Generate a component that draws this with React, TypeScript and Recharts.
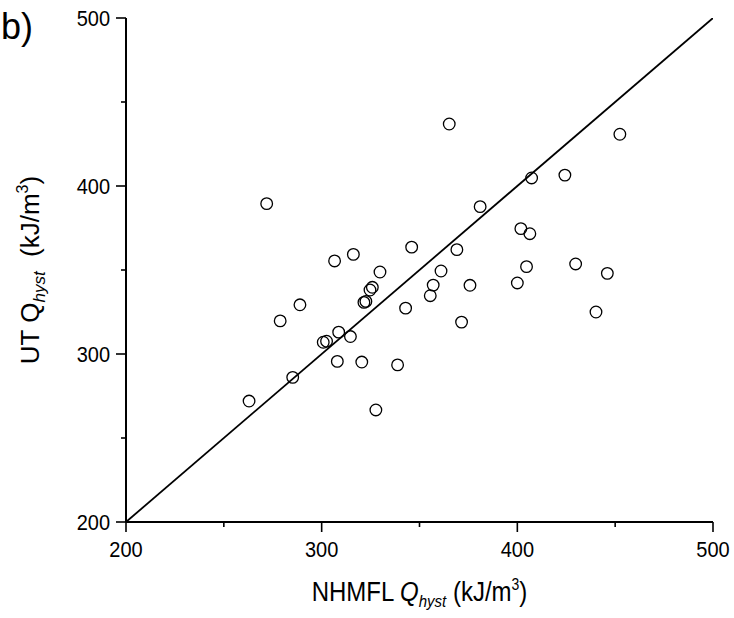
import React from 'react';
import { ScatterChart, Scatter, XAxis, YAxis } from 'recharts';

// NHMFL Q_hyst (x) vs UT Q_hyst (y), kJ/m^3
const nhmflQ = [
  262.9, 271.9, 278.8, 285.2, 288.9, 300.8, 302.5, 306.6, 308.0, 308.7,
  314.7, 316.2, 320.5, 321.6, 322.6, 324.7, 325.9, 327.7, 329.8, 338.8,
  342.9, 346.0, 355.5, 357.0, 361.0, 365.2, 369.1, 371.5, 375.8, 381.0,
  400.0, 401.8, 404.7, 406.4, 407.3, 424.3, 429.8, 440.2, 446.0, 452.4,
];
const utQ = [
  272.0, 389.5, 319.7, 286.1, 329.3, 307.0, 307.6, 355.4, 295.6, 313.0,
  310.4, 359.3, 295.2, 330.7, 331.3, 338.1, 339.7, 266.7, 348.8, 293.5,
  327.3, 363.6, 334.7, 341.0, 349.4, 436.9, 362.1, 319.0, 340.9, 387.7,
  342.3, 374.6, 352.0, 371.6, 404.8, 406.5, 353.6, 325.0, 348.0, 430.8,
];
const axisDomain: [number, number] = [200, 500];
const axisTicks = [200, 250, 300, 350, 400, 450, 500];
const labelledTicks = [200, 300, 400, 500];
const identityLine = [
  { x: 200, y: 200 },
  { x: 500, y: 500 },
];

const points = nhmflQ.map((x, i) => ({ x, y: utQ[i] }));

const FONT = '"Liberation Sans", Arial, Helvetica, sans-serif';
const MAJOR = 10;
const MINOR = 5;
const SW = 2;

const isMajor = (v: number) => labelledTicks.includes(v);

const BottomTick = (props: any) => {
  const { x, y, payload } = props;
  const v = payload.value;
  const len = isMajor(v) ? MAJOR : MINOR;
  return (
    <g>
      <line x1={x} y1={y} x2={x} y2={y + len} stroke="#000" strokeWidth={1.6} />
      {isMajor(v) && (
        <text
          transform={`translate(${x},${y + 34.5}) scale(1,1.07)`}
          textAnchor="middle"
          fontSize={20}
          fontFamily={FONT}
          fill="#000"
        >
          {v}
        </text>
      )}
    </g>
  );
};

const LeftTick = (props: any) => {
  const { x, y, payload } = props;
  const v = payload.value;
  const len = isMajor(v) ? MAJOR : MINOR;
  return (
    <g>
      <line x1={x} y1={y} x2={x - len} y2={y} stroke="#000" strokeWidth={1.6} />
      {isMajor(v) && (
        <text
          transform={`translate(${x - 16},${y + 7.5}) scale(1,1.07)`}
          textAnchor="end"
          fontSize={20}
          fontFamily={FONT}
          fill="#000"
        >
          {v}
        </text>
      )}
    </g>
  );
};

const TopTick = (props: any) => {
  const { x, y, payload } = props;
  const len = isMajor(payload.value) ? MAJOR : MINOR;
  return <line x1={x} y1={y} x2={x} y2={y + len} stroke="#000" strokeWidth={1.6} />;
};

const RightTick = (props: any) => {
  const { x, y, payload } = props;
  const len = isMajor(payload.value) ? MAJOR : MINOR;
  return <line x1={x} y1={y} x2={x - len} y2={y} stroke="#000" strokeWidth={1.6} />;
};

const XTitle = (props: any) => {
  const vb = props.viewBox || {};
  const cx = vb.x + vb.width / 2;
  const by = vb.y + 79;
  return (
    <text
      transform={`translate(${cx},${by}) scale(1,1.14)`}
      textAnchor="middle"
      fontSize={24}
      fontFamily={FONT}
      fill="#000"
    >
      <tspan>NHMFL </tspan>
      <tspan fontStyle="italic">Q</tspan>
      <tspan fontStyle="italic" fontSize={15} dy={5}>hyst</tspan>
      <tspan dy={-5}> (kJ/m</tspan>
      <tspan fontSize={14} dy={-10}>3</tspan>
      <tspan dy={10}>)</tspan>
    </text>
  );
};

const YTitle = (props: any) => {
  const vb = props.viewBox || {};
  const cy = vb.y + vb.height / 2;
  const bx = 39;
  return (
    <text
      transform={`translate(${bx},${cy}) rotate(-90)`}
      textAnchor="middle"
      fontSize={26}
      fontFamily={FONT}
      fill="#000"
    >
      <tspan>UT Q</tspan>
      <tspan fontStyle="italic" fontSize={17} dy={6}>hyst</tspan>
      <tspan dy={-6}>{'\u00a0 (kJ/m'}</tspan>
      <tspan fontSize={16} dy={-11}>3</tspan>
      <tspan dy={11}>)</tspan>
    </text>
  );
};

const Ring = (props: any) => {
  const { cx, cy } = props;
  return <circle cx={cx} cy={cy} r={5.8} fill="none" stroke="#000" strokeWidth={1.3} />;
};

export default function App() {
  return (
    <div style={{ position: 'absolute', left: 0, top: 0, width: 734, height: 618, background: '#fff' }}>
      <ScatterChart width={734} height={618} margin={{ top: 18, right: 21, left: 26, bottom: 36 }}>
        <XAxis
          xAxisId="main"
          dataKey="x"
          type="number"
          domain={axisDomain}
          ticks={axisTicks}
          interval={0}
          allowDataOverflow
          height={60}
          tickSize={0}
          tickMargin={0}
          tickLine={false}
          axisLine={{ stroke: '#000', strokeWidth: SW }}
          tick={<BottomTick />}
          label={{ content: (p: any) => <XTitle {...p} /> }}
        />
        <XAxis
          xAxisId="top"
          orientation="top"
          type="number"
          domain={axisDomain}
          ticks={axisTicks}
          interval={0}
          allowDataOverflow
          height={0}
          tickSize={0}
          tickMargin={0}
          tickLine={false}
          axisLine={{ stroke: '#000', strokeWidth: SW }}
          tick={<TopTick />}
        />
        <YAxis
          yAxisId="main"
          dataKey="y"
          type="number"
          domain={axisDomain}
          ticks={axisTicks}
          interval={0}
          allowDataOverflow
          width={100}
          tickSize={0}
          tickMargin={0}
          tickLine={false}
          axisLine={{ stroke: '#000', strokeWidth: SW }}
          tick={<LeftTick />}
          label={{ content: (p: any) => <YTitle {...p} /> }}
        />
        <YAxis
          yAxisId="right"
          orientation="right"
          type="number"
          domain={axisDomain}
          ticks={axisTicks}
          interval={0}
          allowDataOverflow
          width={0}
          tickSize={0}
          tickMargin={0}
          tickLine={false}
          axisLine={{ stroke: '#000', strokeWidth: SW }}
          tick={<RightTick />}
        />
        <Scatter
          xAxisId="main"
          yAxisId="main"
          data={identityLine}
          line={{ stroke: '#000', strokeWidth: 1.8 }}
          shape={() => <g />}
          isAnimationActive={false}
        />
        <Scatter
          xAxisId="main"
          yAxisId="main"
          data={points}
          shape={<Ring />}
          isAnimationActive={false}
        />
      </ScatterChart>
      <svg width={60} height={60} style={{ position: 'absolute', left: 0, top: 0 }}>
        <text x={1} y={39} fontSize={36} fontFamily={FONT} fill="#000">
          b)
        </text>
      </svg>
    </div>
  );
}
